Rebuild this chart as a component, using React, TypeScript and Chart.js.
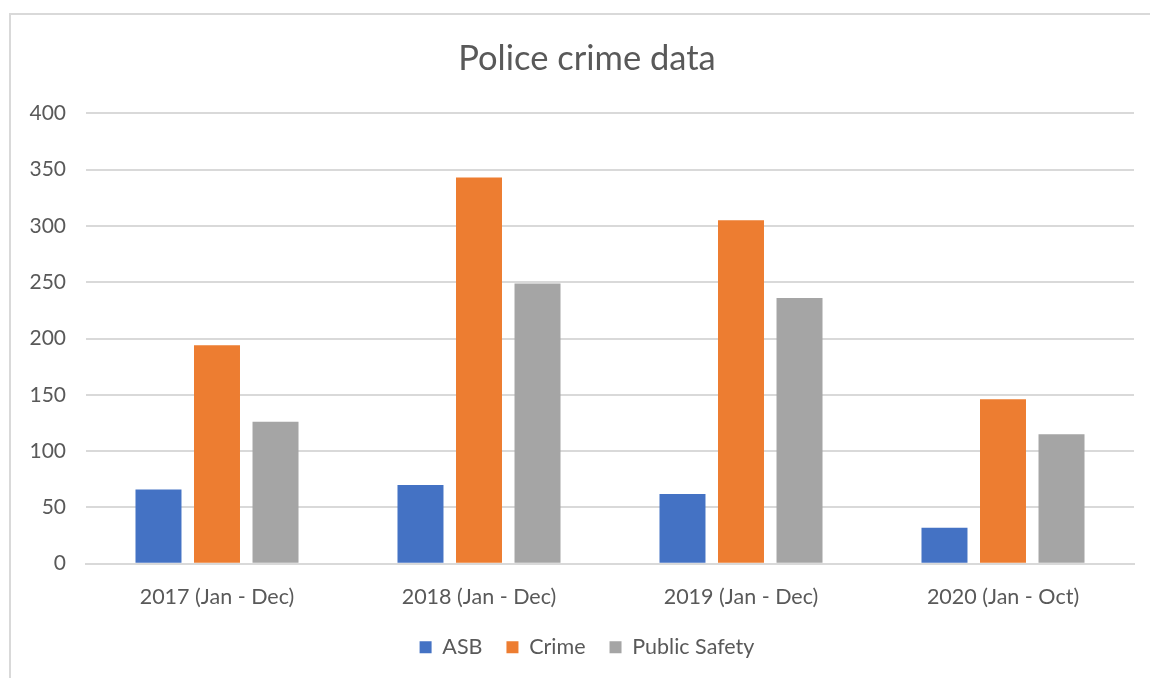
import React, { useEffect, useRef } from "react";
import { Chart, registerables } from "chart.js";

Chart.register(...registerables);

const categories = ["2017 (Jan - Dec)", "2018 (Jan - Dec)", "2019 (Jan - Dec)", "2020 (Jan - Oct)"];
const asbValues = [66, 70, 62, 32];
const crimeValues = [194, 343, 305, 146];
const publicSafetyValues = [126, 249, 236, 115];
const seriesNames = ["ASB", "Crime", "Public Safety"];
const seriesColors = ["#4472C4", "#ED7D31", "#A5A5A5"];
const titleText = "Police crime data";

const FONT = "Lato, 'Open Sans', sans-serif";
const TEXT = "#595959";
const GRID = "#D9D9D9";

export default function App() {
  const ref = useRef<HTMLCanvasElement | null>(null);
  useEffect(() => {
    if (!ref.current) return;
    const seriesValues = [asbValues, crimeValues, publicSafetyValues];
    const chart = new Chart(ref.current, {
      type: "bar",
      data: {
        labels: categories,
        datasets: seriesNames.map((name, i) => ({
          label: name,
          data: seriesValues[i],
          backgroundColor: seriesColors[i],
          borderWidth: 0,
          categoryPercentage: 0.67,
          barPercentage: 0.786,
          yAxisID: "y",
        })),
      },
      options: {
        responsive: false,
        animation: false,
        devicePixelRatio: 1,
        layout: { padding: { left: 0, right: -24, top: 10, bottom: 10 } },
        plugins: {
          title: {
            display: true,
            text: titleText,
            color: TEXT,
            font: { family: FONT, size: 34.5, weight: "normal" },
            padding: { top: 28, bottom: 34 },
          },
          legend: {
            position: "bottom",
            labels: {
              color: TEXT,
              font: { family: FONT, size: 21.5 },
              boxWidth: 12,
              boxHeight: 12,
              padding: 24,
            },
          },
          tooltip: { enabled: false },
        },
        scales: {
          x: {
            grid: { display: false, drawTicks: false },
            border: { display: true, color: GRID, width: 2 },
            ticks: {
              color: TEXT,
              font: { family: FONT, size: 21.5 },
              padding: 20,
              maxRotation: 0,
            },
            afterFit: (scale: any) => {
              scale.height -= 17;
            },
          },
          y: {
            position: "left",
            min: 0,
            max: 400,
            grid: { color: GRID, lineWidth: 2, drawTicks: false },
            border: { display: false },
            ticks: {
              stepSize: 50,
              color: TEXT,
              font: { family: FONT, size: 21 },
              padding: 20,
            },
            afterFit: (scale: any) => {
              scale.width = 86;
            },
          },
          yRight: {
            position: "right",
            display: true,
            min: 0,
            max: 1,
            grid: { display: false, drawTicks: false },
            border: { display: false },
            ticks: { display: false },
            afterFit: (scale: any) => {
              scale.width = 40;
            },
          },
        },
      } as any,
    });
    return () => chart.destroy();
  }, []);

  return (
    <div style={{ position: "fixed", left: 0, top: 0, width: 1150, height: 678, overflow: "hidden", background: "#fff" }}>
      <div
        style={{
          position: "absolute",
          left: 9,
          top: 13,
          width: 1300,
          height: 800,
          border: "2px solid #D9D9D9",
          boxSizing: "border-box",
        }}
      />
      <canvas ref={ref} width={1150} height={678} style={{ position: "absolute", left: 0, top: 0 }} />
    </div>
  );
}
